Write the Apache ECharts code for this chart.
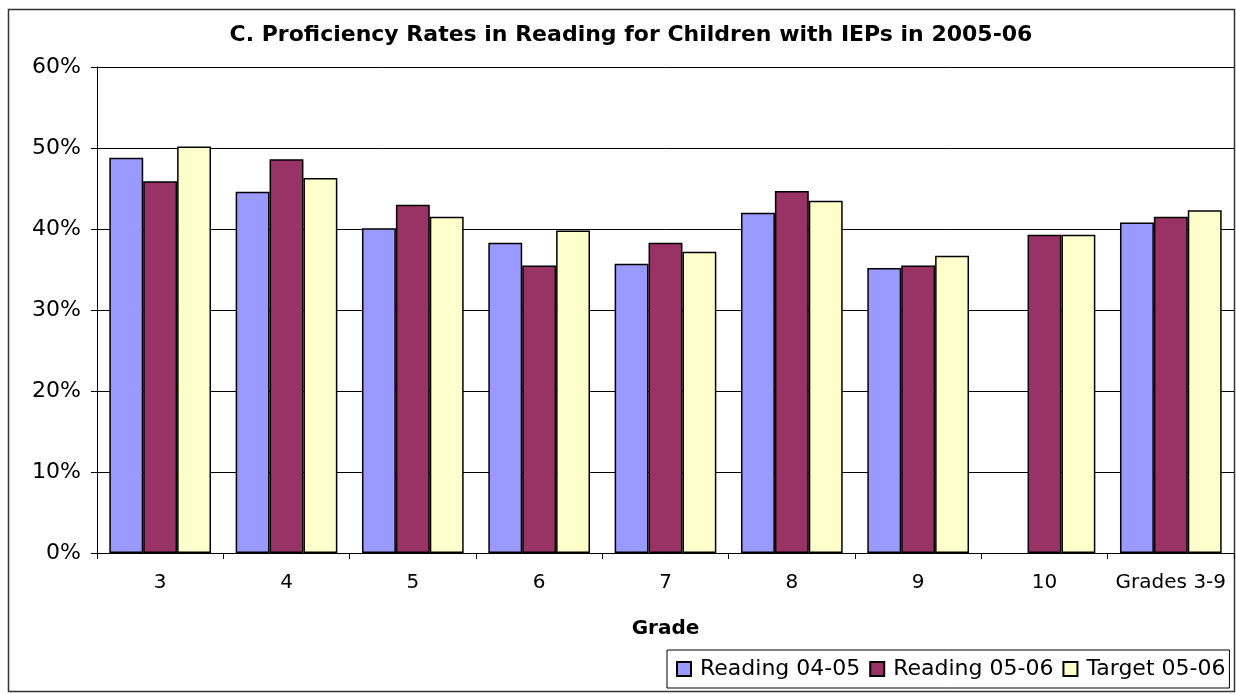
<!DOCTYPE html>
<html><head><meta charset="utf-8">
<script src="https://cdn.jsdelivr.net/npm/echarts@6/dist/echarts.min.js"></script>
<style>html,body{margin:0;padding:0;background:#fff}#c{width:1236px;height:694px}</style>
</head><body><div id="c"></div>
<script>
const categories = ['3','4','5','6','7','8','9','10','Grades 3-9'];
const reading0405 = [48.8, 44.6, 40.1, 38.3, 35.7, 42.0, 35.2, null, 40.8];
const reading0506 = [45.9, 48.6, 43.0, 35.5, 38.3, 44.7, 35.5, 39.3, 41.5];
const target0506 = [50.2, 46.3, 41.5, 39.8, 37.2, 43.5, 36.7, 39.3, 42.3];
const yTicks = [0, 10, 20, 30, 40, 50, 60];

const F = '"DejaVu Sans", "Liberation Sans", Arial, sans-serif';
const chart = echarts.init(document.getElementById('c'));
const barStyle = c => ({color: c, borderColor: '#000', borderWidth: 1.5});
chart.setOption({
  animation: false,
  title: {text: 'C. Proficiency Rates in Reading for Children with IEPs in 2005-06', left: 626, top: 19, textAlign: 'center',
    textStyle: {fontFamily: F, fontSize: 22, fontWeight: 'bold', color: '#000'}},
  graphic: [{type: 'rect', shape: {x: 8.5, y: 9.5, width: 1226, height: 682}, style: {fill: 'none', stroke: '#333', lineWidth: 1.5}, z: -1}],
  grid: {left: 97, right: 2, top: 67, bottom: 141, containLabel: false},
  legend: {left: 667, top: 650, padding: [8, 4, 8, 9], itemGap: 9,
    borderColor: '#000', borderWidth: 1, itemWidth: 14, itemHeight: 14, icon: 'rect',
    textStyle: {fontFamily: F, fontSize: 22, color: '#000', padding: [0, 0, 0, 4]},
    data: ['Reading 04-05', 'Reading 05-06', 'Target 05-06']},
  xAxis: {type: 'category', data: categories, name: 'Grade', nameLocation: 'middle', nameGap: 66,
    nameTextStyle: {fontFamily: F, fontSize: 20, fontWeight: 'bold', color: '#000'},
    axisLine: {lineStyle: {color: '#000', width: 1}},
    axisTick: {show: true, interval: 0, length: 6, lineStyle: {color: '#000'}},
    axisLabel: {interval: 0, fontFamily: F, fontSize: 20, color: '#000', margin: 20}},
  yAxis: {type: 'value', min: yTicks[0], max: yTicks[yTicks.length - 1], interval: 10,
    axisLine: {show: true, lineStyle: {color: '#000', width: 1}},
    axisTick: {show: true, length: 6, inside: false, lineStyle: {color: '#000'}},
    axisLabel: {fontFamily: F, fontSize: 22, color: '#000', margin: 16, formatter: v => v + '%'},
    splitLine: {lineStyle: {color: '#000', width: 1}}},
  series: [
    {name: 'Reading 04-05', type: 'bar', data: reading0405, itemStyle: barStyle('#9999ff'), barGap: '0%', barCategoryGap: '19.5%'},
    {name: 'Reading 05-06', type: 'bar', data: reading0506, itemStyle: barStyle('#993366'), barGap: '0%', barCategoryGap: '19.5%'},
    {name: 'Target 05-06', type: 'bar', data: target0506, itemStyle: barStyle('#ffffcc'), barGap: '0%', barCategoryGap: '19.5%'}
  ]
});
</script></body></html>
